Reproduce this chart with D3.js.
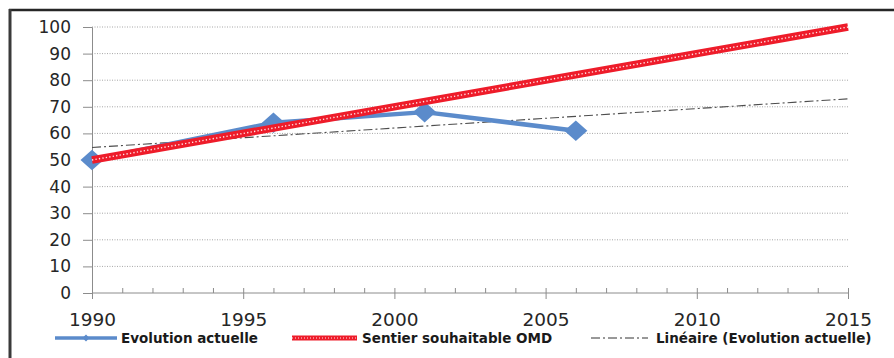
<!DOCTYPE html>
<html><head><meta charset="utf-8">
<script src="https://cdn.jsdelivr.net/npm/d3@7"></script>
<style>body{margin:0;background:#fff}svg{display:block}</style>
</head><body>
<svg id="c" width="894" height="358"></svg>
<script>
const years = [1990, 1996, 2001, 2006];
const evolution = [50, 64, 68, 61];
const omdYears = [1990, 2015];
const omdValues = [50, 100];
const trendYears = [1990, 2015];
const trendValues = [54.7, 73.0];
const xTicks = [1990, 1995, 2000, 2005, 2010, 2015];
const yTicks = [0, 10, 20, 30, 40, 50, 60, 70, 80, 90, 100];
const seriesNames = ["Evolution actuelle", "Sentier souhaitable OMD", "Linéaire (Evolution actuelle)"];

const svg = d3.select("#c");
const x = d3.scaleLinear().domain([1990, 2015]).range([92, 848]);
const y = d3.scaleLinear().domain([0, 100]).range([293, 27]);

// frame
svg.append("line").attr("x1", 9).attr("x2", 894).attr("y1", 10).attr("y2", 10).attr("stroke", "#262626").attr("stroke-width", 2.5);
svg.append("line").attr("x1", 10).attr("x2", 10).attr("y1", 9).attr("y2", 358).attr("stroke", "#3a3a3a").attr("stroke-width", 3);

// gridlines
svg.append("g").selectAll("line").data(yTicks.filter(d => d > 0)).join("line")
  .attr("x1", x(1990)).attr("x2", x(2015)).attr("y1", d => y(d)).attr("y2", d => y(d))
  .attr("stroke", "#a6a6a6").attr("stroke-width", 1).attr("stroke-dasharray", "1,1.5");

// y axis
const yAxis = d3.axisLeft(y).tickValues(yTicks).tickSize(9).tickPadding(12).tickFormat(d3.format("d"));
const gy = svg.append("g").attr("transform", `translate(${x(1990)},0)`).call(yAxis);
gy.select(".domain").attr("stroke", "#8c8c8c");
gy.selectAll(".tick line").attr("stroke", "#8c8c8c");
gy.selectAll("text").attr("font-family", "DejaVu Sans").attr("font-size", 17).attr("fill", "#262626");

// x axis minor ticks (inside)
const minor = d3.range(1990, 2016).filter(v => v % 5 !== 0);
const xAxisMinor = d3.axisTop(x).tickValues(minor).tickSize(5).tickFormat("");
const gxm = svg.append("g").attr("transform", `translate(0,${y(0)})`).call(xAxisMinor);
gxm.select(".domain").remove();
gxm.selectAll(".tick line").attr("stroke", "#8c8c8c");

// x axis major ticks crossing
const xAxis = d3.axisBottom(x).tickValues(xTicks).tickSize(6).tickPadding(14).tickFormat(d3.format("d"));
const gx = svg.append("g").attr("transform", `translate(0,${y(0)})`).call(xAxis);
gx.select(".domain").attr("stroke", "#8c8c8c").attr("d", `M${x(1990)},0H${x(2015)}`);
gx.selectAll(".tick line").attr("stroke", "#8c8c8c").attr("y1", -5);
gx.selectAll("text").attr("font-family", "DejaVu Sans").attr("font-size", 18.5).attr("fill", "#262626");

const line = d3.line().x(d => x(d[0])).y(d => y(d[1]));

// trend
svg.append("path").datum(d3.zip(trendYears, trendValues)).attr("d", line)
  .attr("fill", "none").attr("stroke", "#4d4d4d").attr("stroke-width", 1.1).attr("stroke-dasharray", "9,3,2,3");

// evolution series
const evoData = d3.zip(years, evolution);
svg.append("path").datum(evoData).attr("d", line)
  .attr("fill", "none").attr("stroke", "#5b8bcb").attr("stroke-width", 4.5).attr("stroke-linejoin", "round");
const diamond = d3.symbol().type(d3.symbolDiamond2).size(270);
svg.append("g").selectAll("path").data(evoData).join("path")
  .attr("d", diamond).attr("transform", d => `translate(${x(d[0])},${y(d[1])}) scale(1.12,1)`)
  .attr("fill", "#5b8bcb");

// OMD path
const omdData = d3.zip(omdYears, omdValues);
svg.append("path").datum(omdData).attr("d", line)
  .attr("fill", "none").attr("stroke", "#ee1c2a").attr("stroke-width", 7.5);
svg.append("path").datum(omdData).attr("d", line)
  .attr("fill", "none").attr("stroke", "#ffe6e8").attr("stroke-width", 1.4).attr("stroke-dasharray", "1.3,2.2");

// legend
const ly = 338;
const lg = svg.append("g");
lg.append("line").attr("x1", 55).attr("x2", 117).attr("y1", ly).attr("y2", ly).attr("stroke", "#5b8bcb").attr("stroke-width", 3.5);
lg.append("path").attr("d", d3.symbol().type(d3.symbolDiamond2).size(30)).attr("transform", `translate(86,${ly})`).attr("fill", "#5b8bcb");
lg.append("line").attr("x1", 292).attr("x2", 357).attr("y1", ly).attr("y2", ly).attr("stroke", "#ee1c2a").attr("stroke-width", 5);
lg.append("line").attr("x1", 292).attr("x2", 357).attr("y1", ly).attr("y2", ly).attr("stroke", "#ffe6e8").attr("stroke-width", 1).attr("stroke-dasharray", "1,2");
lg.append("line").attr("x1", 591).attr("x2", 648).attr("y1", ly).attr("y2", ly).attr("stroke", "#333").attr("stroke-width", 1).attr("stroke-dasharray", "9,3,2,3");
const lx = [121, 362, 656];
lg.selectAll("text").data(seriesNames).join("text")
  .attr("x", (d, i) => lx[i]).attr("y", ly + 5)
  .attr("font-family", "DejaVu Sans").attr("font-weight", "bold").attr("font-size", 13.5).attr("fill", "#1a1a1a")
  .text(d => d);
</script>
</body></html>
